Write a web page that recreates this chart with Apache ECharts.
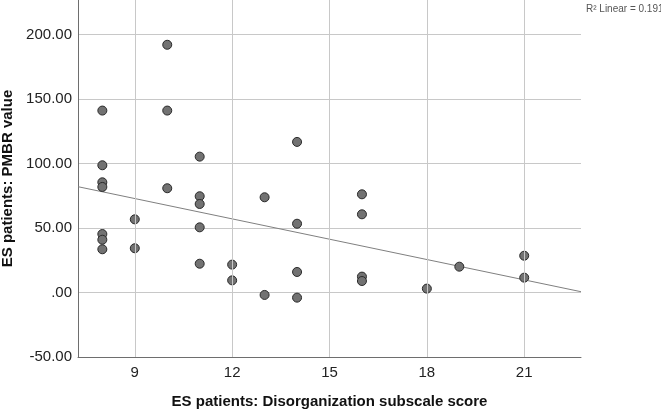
<!DOCTYPE html>
<html>
<head>
<meta charset="utf-8">
<script src="https://cdn.jsdelivr.net/npm/echarts@6/dist/echarts.min.js"></script>
<style>
html,body{margin:0;padding:0;background:#fff;}
#c{width:661px;height:410px;}
</style>
</head>
<body>
<div id="c"></div>
<script>
// Data
var scoreX = [8,8,8,8,8,8,8, 9,9, 10,10,10, 11,11,11,11,11, 12,12, 13,13, 14,14,14,14, 16,16,16,16, 18, 19, 21,21];
var pmbrY  = [141,98.6,85.4,81.8,45.3,40.9,33.5, 56.7,34.3, 192,141,80.8, 105.3,74.6,68.6,50.5,22.3, 21.6,9.4, 73.8,-1.9, 116.7,53.3,15.9,-4.0, 76.1,60.6,12.3,8.9, 3.0, 20.0, 28.5,11.5];
var fitX = [7.25, 22.75];
var fitY = [82.0, 0.6];
var xTicks = [9, 12, 15, 18, 21];
var yTicks = [-50, 0, 50, 100, 150, 200];
var xRange = [7.25, 22.75];
var yRange = [-50, 226.7];
var xTitle = 'ES patients: Disorganization subscale score';
var yTitle = 'ES patients: PMBR value';
var r2Label = 'R\u00B2 Linear = 0.191';

var FONT = '"Liberation Sans", Arial, sans-serif';
var chart = echarts.init(document.getElementById('c'), null, {renderer: 'canvas'});
var pts = scoreX.map(function (x, i) { return [x, pmbrY[i]]; });
var fit = fitX.map(function (x, i) { return [x, fitY[i]]; });

chart.setOption({
  animation: false,
  backgroundColor: '#ffffff',
  grid: {left: 78, right: 80, top: 0, bottom: 53, containLabel: false, outerBoundsMode: 'none'},
  xAxis: {
    type: 'value', min: xRange[0], max: xRange[1],
    axisLine: {show: true, onZero: false, lineStyle: {color: '#6e6e6e', width: 1}},
    axisTick: {show: false},
    splitLine: {show: false},
    axisLabel: {customValues: xTicks, color: '#222', fontSize: 15, fontFamily: FONT, margin: 8,
      formatter: function (v) { return String(v); }},
    name: xTitle, nameLocation: 'middle', nameGap: 37,
    nameTextStyle: {fontSize: 15, fontWeight: 'bold', color: '#111', fontFamily: FONT}
  },
  yAxis: {
    type: 'value', min: yRange[0], max: yRange[1], interval: 50,
    axisLine: {show: true, lineStyle: {color: '#6e6e6e', width: 1}},
    axisTick: {show: false},
    splitLine: {show: true, showMinLine: false, showMaxLine: false, lineStyle: {color: '#c8c8c8', width: 1}},
    axisLabel: {showMaxLabel: false, color: '#222', fontSize: 15, fontFamily: FONT, margin: 6,
      formatter: function (v) {
        if (yTicks.indexOf(v) < 0) return '';
        return v === 0 ? '.00' : v.toFixed(2);
      }},
    name: yTitle, nameLocation: 'middle', nameGap: 62,
    nameTextStyle: {fontSize: 15, fontWeight: 'bold', color: '#111', fontFamily: FONT}
  },
  graphic: [{
    type: 'text', left: 586, top: 4,
    style: {text: r2Label, fontSize: 10, fill: '#555', fontFamily: FONT}
  }],
  series: [
    {
      type: 'line', data: [], silent: true,
      markLine: {
        silent: true, symbol: 'none', label: {show: false},
        lineStyle: {color: '#c8c8c8', width: 1, type: 'solid'},
        data: xTicks.map(function (t) { return {xAxis: t}; })
      }
    },
    {
      type: 'line', data: fit, showSymbol: false, symbol: 'none',
      lineStyle: {color: '#808080', width: 1}, z: 3
    },
    {
      type: 'scatter', data: pts, symbol: 'circle', symbolSize: 9,
      itemStyle: {color: '#727272', borderColor: '#2a2a2a', borderWidth: 1, opacity: 1}, z: 4
    }
  ]
});
</script>
</body>
</html>
